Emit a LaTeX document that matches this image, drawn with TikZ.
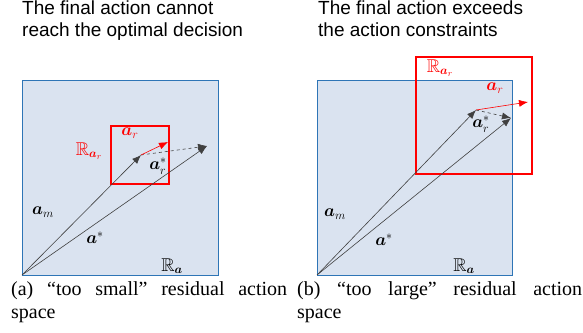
\documentclass[tikz,border=0pt]{standalone}
\usepackage{amssymb}
\usepackage{bm}
\usepackage{fontspec}
\setmainfont{Liberation Serif}
\newfontfamily\headfont{Liberation Sans}
\usetikzlibrary{arrows.meta}

\definecolor{spacefill}{HTML}{DAE3F0}
\definecolor{spaceline}{HTML}{2E75B6}

\begin{document}
\begin{tikzpicture}[
    x=1pt, y=-1pt,
    >={Latex[length=9pt,width=7pt]},
    every node/.style={inner sep=0pt},
    space/.style={
        draw=spaceline,
        fill=spacefill,
        line width=1pt
    },
    resbox/.style={
        draw=red,
        line width=2pt
    },
    vec/.style={
        ->,
        draw=black!75,
        line width=0.6pt
    },
    gap/.style={
        ->,
        dashed,
        draw=black!75,
        line width=0.6pt
    },
    resvec/.style={
        ->,
        draw=red,
        line width=0.6pt
    },
    lbl/.style={
        font=\fontsize{18.5}{18.5}\selectfont
    },
    rlbl/.style={
        lbl,
        text=red
    },
    head/.style={
        font=\headfont\fontsize{19}{21.5}\selectfont,
        align=left,
        anchor=north west
    },
    capt/.style={
        font=\fontsize{20}{23}\selectfont,
        align=justify,
        anchor=north west
    }
]
\useasboundingbox (0,0) rectangle (583,332);

% (a) too small
\node[head] (titleA) at (22,1) {The final action cannot\\reach the optimal decision};
\draw[space] (22,80) rectangle (218,275);
\draw[resbox] (111,126) rectangle (169,184);
\coordinate (oA) at (22,275);
\coordinate (amA) at (141,155);
\coordinate (asA) at (207,146);
\coordinate (arA) at (168,142);
\draw[vec] (oA) -- (amA);
\draw[vec] (oA) -- (asA);
\draw[gap] (amA) -- (asA);
\draw[resvec] (amA) -- (arA);
\node[rlbl] (RarA) at (89,151) {$\mathbb{R}_{\bm{a}_r}$};
\node[rlbl] (arlA) at (130,133) {$\bm{a}_r$};
\node[lbl] (arsA) at (158,166) {$\bm{a}_r^*$};
\node[lbl] (amlA) at (43,212) {$\bm{a}_m$};
\node[lbl] (aslA) at (95,238) {$\bm{a}^*$};
\node[lbl] (RaA) at (172,266) {$\mathbb{R}_{\bm{a}}$};
\node[capt, text width=276pt] (captA) at (11,281) {(a) “too small” residual action\linebreak space};

% (b) too large
\node[head] (titleB) at (318,1) {The final action exceeds\\the action constraints};
\draw[space] (317,80) rectangle (512,275);
\draw[resbox] (416,57) rectangle (532,174);
\coordinate (oB) at (317,275);
\coordinate (amB) at (476,110);
\coordinate (asB) at (511,118);
\coordinate (arB) at (528,102);
\draw[vec] (oB) -- (amB);
\draw[vec] (oB) -- (asB);
\draw[gap] (amB) -- (asB);
\draw[resvec] (amB) -- (arB);
\node[rlbl] (RarB) at (440,68) {$\mathbb{R}_{\bm{a}_r}$};
\node[rlbl] (arlB) at (495,88) {$\bm{a}_r$};
\node[lbl] (arsB) at (481,124) {$\bm{a}_r^*$};
\node[lbl] (amlB) at (335,214) {$\bm{a}_m$};
\node[lbl] (aslB) at (384,240) {$\bm{a}^*$};
\node[lbl] (RaB) at (464,266) {$\mathbb{R}_{\bm{a}}$};
\node[capt, text width=285pt] (captB) at (297,281) {(b) “too large” residual action\linebreak space};
\end{tikzpicture}
\end{document}
